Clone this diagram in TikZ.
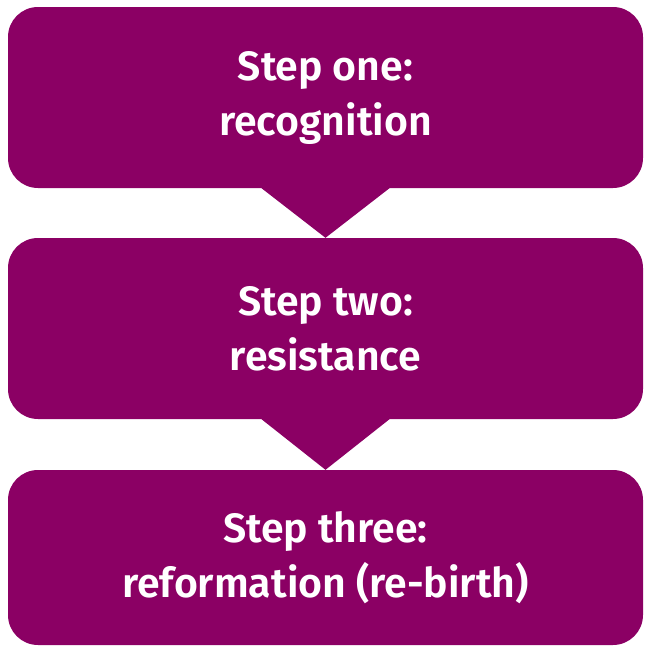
\documentclass[tikz,border=0pt]{standalone}
\usepackage{fontspec}
\setmainfont{Fira Sans}[BoldFont={Fira Sans SemiBold}]
\usepackage{tikz}
\usetikzlibrary{positioning}
\definecolor{plum}{RGB}{139,0,100}

\begin{document}
\begin{tikzpicture}[x=1pt,y=-1pt]
\tikzset{stepbox/.style = {fill=plum, rounded corners=30pt, minimum width=635pt, inner sep=0pt,
  align=center, text=white, font=\fontsize{41}{55}\selectfont\bfseries}}
\tikzset{edge/.style = {fill=plum}}
\useasboundingbox (0,0) rectangle (645,646);
%the three steps
\node[stepbox, minimum height=181pt] (one) at (325.5,97.5) {Step one:\\recognition};
\node[stepbox, minimum height=181pt] (two) at (325.5,328.5) {Step two:\\resistance};
\node[stepbox, minimum height=175pt] (three) at (325.5,557.5) {Step three:\\reformation (re-birth)};
%arrows between steps
\fill[edge] ([xshift=-64pt]one.south) -- ([xshift=64pt]one.south) -- (two.north) -- cycle;
\fill[edge] ([xshift=-64pt]two.south) -- ([xshift=64pt]two.south) -- (three.north) -- cycle;
\end{tikzpicture}
\end{document}
